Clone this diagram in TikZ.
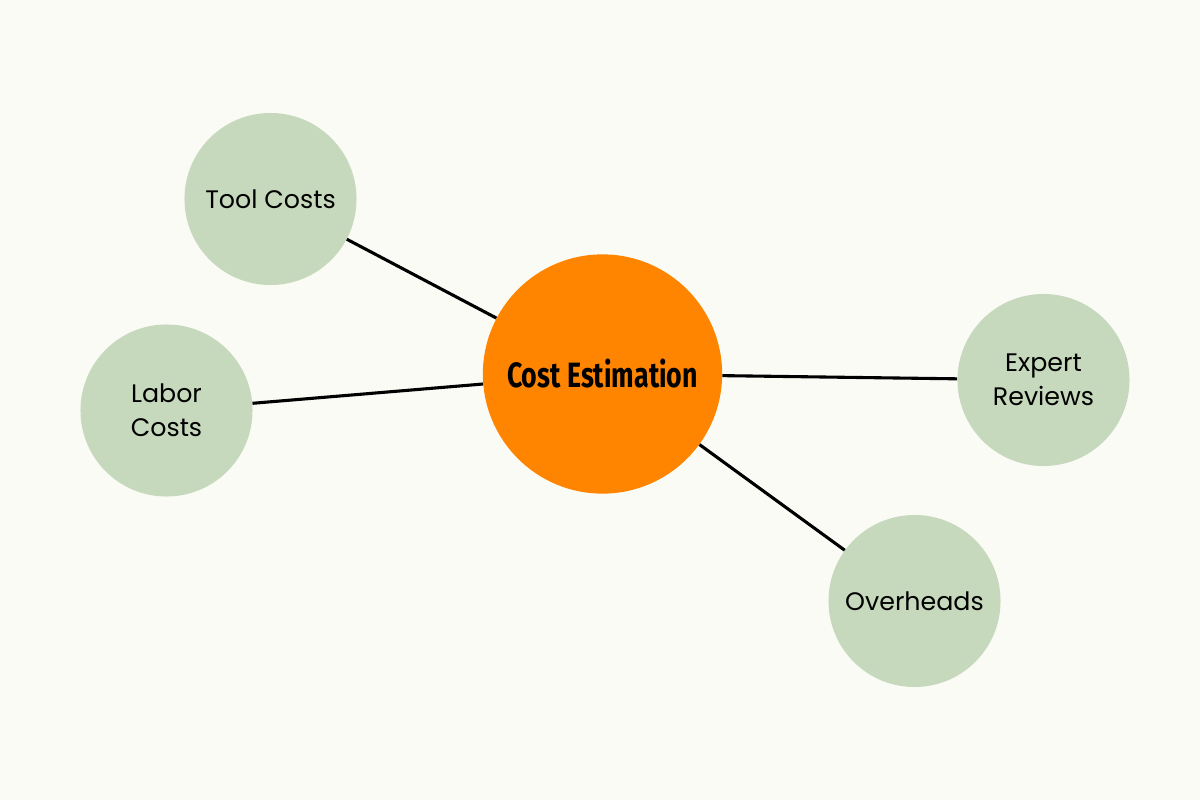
\documentclass[tikz,border=0pt]{standalone}
\usepackage{fontspec}
\setmainfont{Poppins}
\newfontfamily\headfont[FakeStretch=0.76]{Fira Sans Bold}
\definecolor{bgcream}{HTML}{FAFBF4}
\definecolor{leafgreen}{HTML}{C6D9BC}
\definecolor{huborange}{HTML}{FF8400}
\begin{document}
\begin{tikzpicture}[x=0.025cm, y=-0.025cm,
    leaf/.style={circle, fill=leafgreen, minimum size=4.3cm, inner sep=0pt, align=center, font=\fontsize{18}{24.5}\selectfont},
    hub/.style={circle, fill=huborange, minimum size=5.98cm, inner sep=0pt, font=\headfont\fontsize{25}{28}\selectfont},
    link/.style={line width=2.2pt, color=black}]
    \fill [bgcream] (0,0) rectangle (1200,800);
    \useasboundingbox (0,0) rectangle (1200,800);
    \node (hub) at (602.5,374) [hub] {Cost Estimation};
    \node (tool) at (270.5,199) [leaf] {Tool Costs};
    \node (labor) at (166.5,410.5) [leaf] {Labor\\Costs};
    \node (expert) at (1043.5,380) [leaf] {Expert\\Reviews};
    \node (over) at (914.5,601) [leaf] {Overheads};
    \draw [link] (hub) -- (tool);
    \draw [link] (hub) -- (labor);
    \draw [link] (hub) -- (expert);
    \draw [link] (hub) -- (over);
\end{tikzpicture}
\end{document}
